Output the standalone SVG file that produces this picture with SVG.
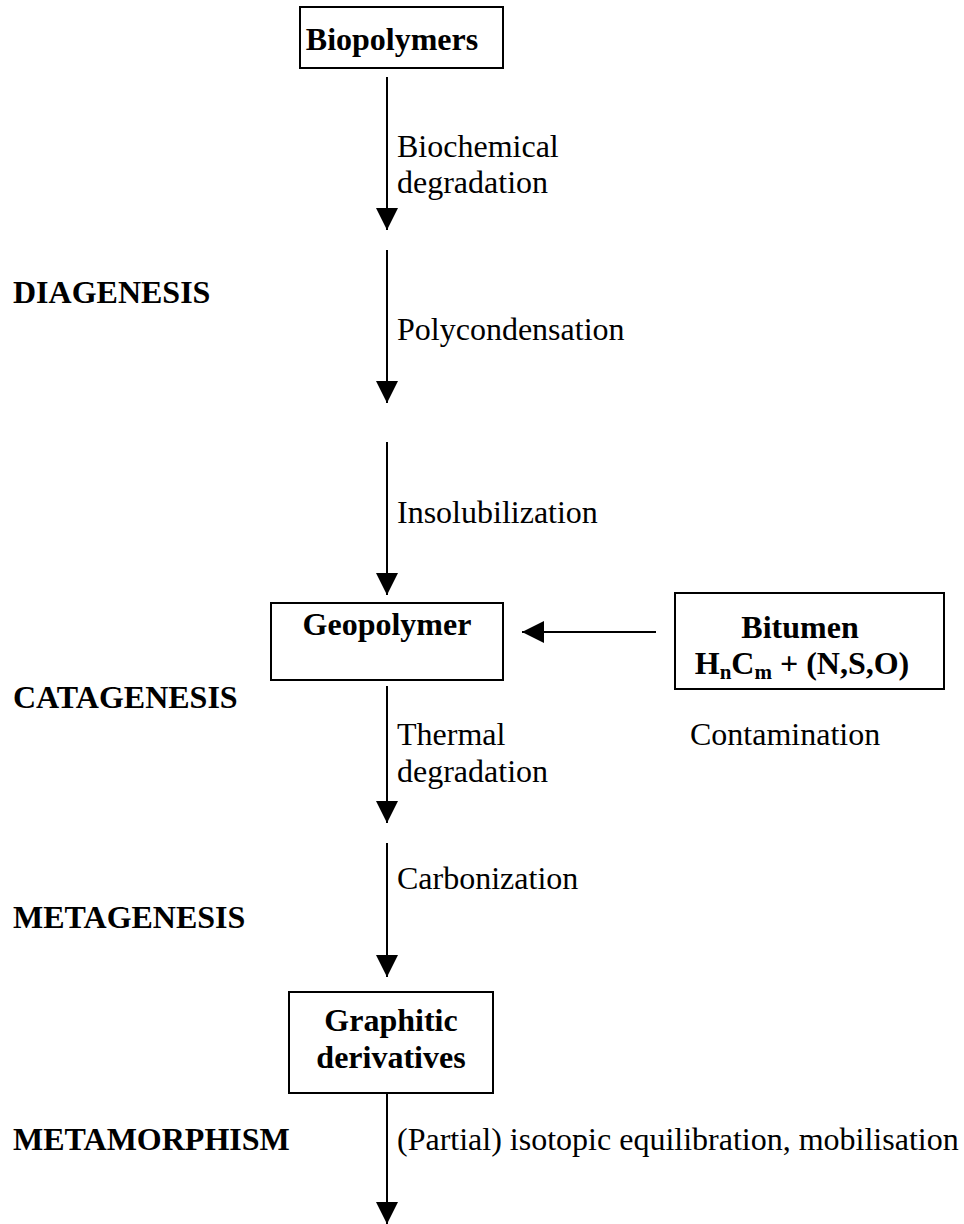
<svg xmlns="http://www.w3.org/2000/svg" width="964" height="1224" viewBox="0 0 964 1224">
<defs>
<style>
.box{fill:#fff;stroke:#000;stroke-width:2}
.b{font-family:"Liberation Serif","Times New Roman",serif;font-weight:bold;font-size:32px;fill:#000}
.r{font-family:"Liberation Serif","Times New Roman",serif;font-size:32px;fill:#000}
.ln{stroke:#000;stroke-width:2;fill:none}
.sub{font-size:21px}
</style>
<marker id="ah" markerUnits="userSpaceOnUse" markerWidth="22" markerHeight="22" viewBox="0 0 20 20" refX="20" refY="10" orient="auto">
<path d="M0,0 L20,10 L0,20 Z" fill="#000"/>
</marker>
</defs>
<rect width="964" height="1224" fill="#fff"/>
<g id="connectors">
<line class="ln" x1="387" y1="77" x2="387" y2="230" marker-end="url(#ah)"/>
<line class="ln" x1="387" y1="250" x2="387" y2="403" marker-end="url(#ah)"/>
<line class="ln" x1="387" y1="442" x2="387" y2="595" marker-end="url(#ah)"/>
<line class="ln" x1="656" y1="632" x2="522" y2="632" marker-end="url(#ah)"/>
<line class="ln" x1="387" y1="686" x2="387" y2="823" marker-end="url(#ah)"/>
<line class="ln" x1="387" y1="843" x2="387" y2="977" marker-end="url(#ah)"/>
<line class="ln" x1="387" y1="1093" x2="387" y2="1224" marker-end="url(#ah)"/>
</g>
<g id="edge-labels">
<text class="r" x="397" y="157">Biochemical</text>
<text class="r" x="397" y="193">degradation</text>
<text class="r" x="397" y="340">Polycondensation</text>
<text class="r" x="397" y="523">Insolubilization</text>
<text class="r" x="397" y="745">Thermal</text>
<text class="r" x="397" y="782">degradation</text>
<text class="r" x="690" y="745">Contamination</text>
<text class="r" x="397" y="889">Carbonization</text>
<text class="r" x="397" y="1150">(Partial) isotopic equilibration, mobilisation</text>
</g>
<g id="stage-labels">
<text class="b" x="13" y="303">DIAGENESIS</text>
<text class="b" x="13" y="708">CATAGENESIS</text>
<text class="b" x="13" y="928">METAGENESIS</text>
<text class="b" x="13" y="1150">METAMORPHISM</text>
</g>
<g id="biopolymers">
<rect class="box" x="300" y="7" width="203" height="61"/>
<text class="b" x="392" y="50" text-anchor="middle">Biopolymers</text>
</g>
<g id="geopolymer">
<rect class="box" x="271" y="603" width="232" height="77"/>
<text class="b" x="387" y="635" text-anchor="middle">Geopolymer</text>
</g>
<g id="bitumen">
<rect class="box" x="675" y="593" width="269" height="96"/>
<text class="b" x="800" y="638" text-anchor="middle">Bitumen</text>
<text class="b" x="802" y="674" text-anchor="middle">H<tspan class="sub" dy="5">n</tspan><tspan dy="-5">C</tspan><tspan class="sub" dy="5">m</tspan><tspan dy="-5"> + (N,S,O)</tspan></text>
</g>
<g id="graphitic">
<rect class="box" x="289" y="992" width="204" height="101"/>
<text class="b" x="391" y="1031" text-anchor="middle">Graphitic</text>
<text class="b" x="391" y="1068" text-anchor="middle">derivatives</text>
</g>
</svg>
